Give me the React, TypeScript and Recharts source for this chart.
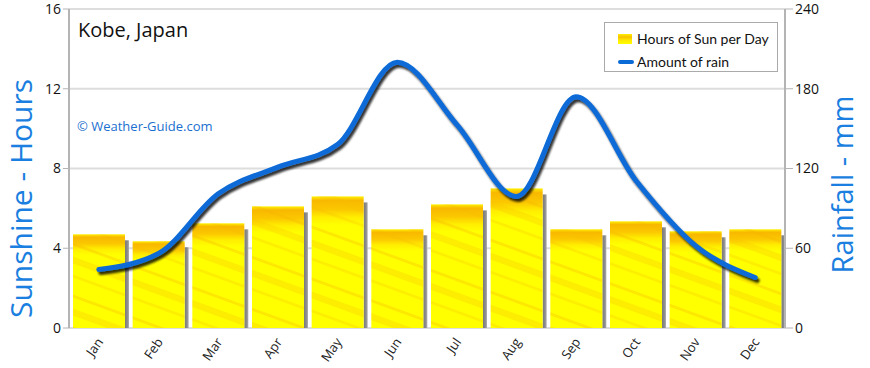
import { Bar, CartesianGrid, ComposedChart, Legend, Line, XAxis, YAxis } from "recharts";

const MONTHS = ["Jan", "Feb", "Mar", "Apr", "May", "Jun", "Jul", "Aug", "Sep", "Oct", "Nov", "Dec"];
const SUN_HOURS = [4.7, 4.35, 5.25, 6.1, 6.6, 4.95, 6.2, 7.0, 4.95, 5.35, 4.85, 4.95];
const RAIN_MM = [44, 56, 101, 121, 138, 200, 153, 99, 174, 111, 62, 38];
const SUN_TICKS = [0, 4, 8, 12, 16];
const RAIN_TICKS = [0, 60, 120, 180, 240];
const BOUNDARY_TICKS = [0, 1, 2, 3, 4, 5, 6, 7, 8, 9, 10, 11, 12];

const rows = MONTHS.map((month, i) => ({ month, sun: SUN_HOURS[i], rain: RAIN_MM[i], idx: i + 0.5 }));

const FONT = "'Open Sans', 'DejaVu Sans', sans-serif";
const BLUE = "#0a6ad6";
const AXIS = "#b4b4b4";

function SunBar(props: any) {
  const { x, y, width, height } = props;
  if (!height || height <= 0) return null;
  return (
    <g>
      <rect x={x + width} y={y + 6} width={4} height={height - 6} fill="url(#barShadow)" />
      <rect x={x} y={y} width={width} height={height} fill="url(#sunGrad)" />
      <rect x={x} y={y} width={width} height={height} fill="url(#streaks)" />
    </g>
  );
}

function MonthTick(props: any) {
  const { x, y, payload } = props;
  const tx = x + 5;
  const ty = y + 6;
  return (
    <text
      x={tx}
      y={ty}
      transform={`rotate(-55, ${tx}, ${ty})`}
      textAnchor="end"
      fontSize={13}
      fontFamily={FONT}
      fill="#222"
    >
      {payload.value}
    </text>
  );
}

function NoTick() {
  return <g />;
}

function LegendBox() {
  return (
    <div
      style={{
        width: 174,
        height: 50,
        border: "1px solid #aaa",
        background: "#fff",
        fontFamily: "Lato, 'Open Sans', sans-serif",
        fontSize: 14,
        color: "#111",
        boxSizing: "border-box",
        padding: "4px 0 0 13px",
      }}
    >
      <div style={{ display: "flex", alignItems: "center", height: 23 }}>
        <span
          style={{
            width: 14,
            height: 10,
            marginRight: 5,
            background: "linear-gradient(#fff000, #f8c000 30%, #ffe800 60%, #ffff00)",
          }}
        />
        Hours of Sun per Day
      </div>
      <div style={{ display: "flex", alignItems: "center", height: 23 }}>
        <span style={{ width: 16, height: 4, borderRadius: 2, marginRight: 3, background: BLUE }} />
        Amount of rain
      </div>
    </div>
  );
}

export default function App() {
  return (
    <div style={{ position: "relative", width: 870, height: 368, background: "#fff" }}>
      <style>{"body{margin:0}"}</style>
      <ComposedChart
        width={870}
        height={368}
        data={rows}
        margin={{ top: 9, right: 0, bottom: 0, left: 0 }}
      >
        <defs>
          <linearGradient id="sunGrad" x1="0" y1="0" x2="0" y2="1">
            <stop offset="0%" stopColor="#fff000" />
            <stop offset="3%" stopColor="#f8b800" />
            <stop offset="10%" stopColor="#fbc800" />
            <stop offset="16%" stopColor="#ffee00" />
            <stop offset="22%" stopColor="#ffff00" />
            <stop offset="100%" stopColor="#ffff00" />
          </linearGradient>
          <linearGradient id="barShadow" x1="0" y1="0" x2="1" y2="0">
            <stop offset="0%" stopColor="#7a7a7a" />
            <stop offset="60%" stopColor="#8c8c8c" />
            <stop offset="100%" stopColor="#b0b0b0" />
          </linearGradient>
          <pattern id="streaks" patternUnits="userSpaceOnUse" width="60" height="52" patternTransform="skewY(20)">
            <rect x="0" y="8" width="60" height="3" fill="#f6b400" opacity="0.3" />
            <rect x="0" y="22" width="60" height="7" fill="#f8bc00" opacity="0.28" />
            <rect x="0" y="40" width="60" height="3" fill="#f6b400" opacity="0.22" />
          </pattern>
          <filter id="lineShadow" x="-10%" y="-20%" width="120%" height="140%">
            <feGaussianBlur in="SourceAlpha" stdDeviation="1.3" />
            <feOffset dx="2" dy="3" result="off" />
            <feComponentTransfer>
              <feFuncA type="linear" slope="0.8" />
            </feComponentTransfer>
            <feMerge>
              <feMergeNode />
              <feMergeNode in="SourceGraphic" />
            </feMerge>
          </filter>
        </defs>
        <CartesianGrid yAxisId="sun" vertical={false} stroke="#dddddd" strokeWidth={2} />
        <XAxis
          xAxisId="bounds"
          type="number"
          dataKey="idx"
          domain={[0, 12]}
          ticks={BOUNDARY_TICKS}
          height={0}
          tick={NoTick}
          tickLine={{ stroke: AXIS }}
          axisLine={{ stroke: AXIS, strokeWidth: 2 }}
          tickSize={6}
        />
        <XAxis
          dataKey="month"
          height={40}
          axisLine={false}
          tickLine={false}
          interval={0}
          tick={<MonthTick />}
        />
        <YAxis
          yAxisId="sun"
          width={69}
          domain={[0, 16]}
          ticks={SUN_TICKS}
          tick={{ fill: "#111", fontSize: 14, fontFamily: FONT }}
          tickLine={{ stroke: AXIS }}
          axisLine={{ stroke: AXIS, strokeWidth: 2 }}
          tickSize={6}
          label={{
            value: "Sunshine - Hours",
            angle: -90,
            position: "insideLeft",
            dx: 16,
            dy: 30,
            style: { fill: "#1a7fe0", fontSize: 30, fontFamily: FONT, textAnchor: "middle" },
          }}
        />
        <YAxis
          yAxisId="rain"
          orientation="right"
          width={85}
          domain={[0, 240]}
          ticks={RAIN_TICKS}
          tick={{ fill: "#111", fontSize: 14, fontFamily: FONT, textAnchor: "start" }}
          tickLine={{ stroke: AXIS }}
          axisLine={{ stroke: AXIS, strokeWidth: 2 }}
          tickSize={8}
          label={{
            value: "Rainfall - mm",
            angle: -90,
            position: "insideRight",
            dx: -22,
            dy: 16,
            style: { fill: "#1a7fe0", fontSize: 29, fontFamily: FONT, textAnchor: "middle" },
          }}
        />
        <Bar yAxisId="sun" dataKey="sun" barSize={52} shape={SunBar} isAnimationActive={false} />
        <Line
          yAxisId="rain"
          type="monotone"
          dataKey="rain"
          stroke={BLUE}
          strokeWidth={5}
          strokeLinecap="round"
          dot={false}
          activeDot={false}
          filter="url(#lineShadow)"
          isAnimationActive={false}
        />
        <Legend
          layout="vertical"
          align="center"
          verticalAlign="middle"
          wrapperStyle={{ position: "absolute", top: 22, left: 604, width: 174 }}
          content={() => <LegendBox />}
        />
      </ComposedChart>
      <div
        style={{
          position: "absolute",
          left: 78,
          top: 16,
          fontFamily: FONT,
          fontSize: 20,
          color: "#111",
        }}
      >
        Kobe, Japan
      </div>
      <div
        style={{
          position: "absolute",
          left: 77,
          top: 117,
          fontFamily: FONT,
          fontSize: 13,
          color: "#1a6fd0",
        }}
      >
        © Weather-Guide.com
      </div>
    </div>
  );
}
